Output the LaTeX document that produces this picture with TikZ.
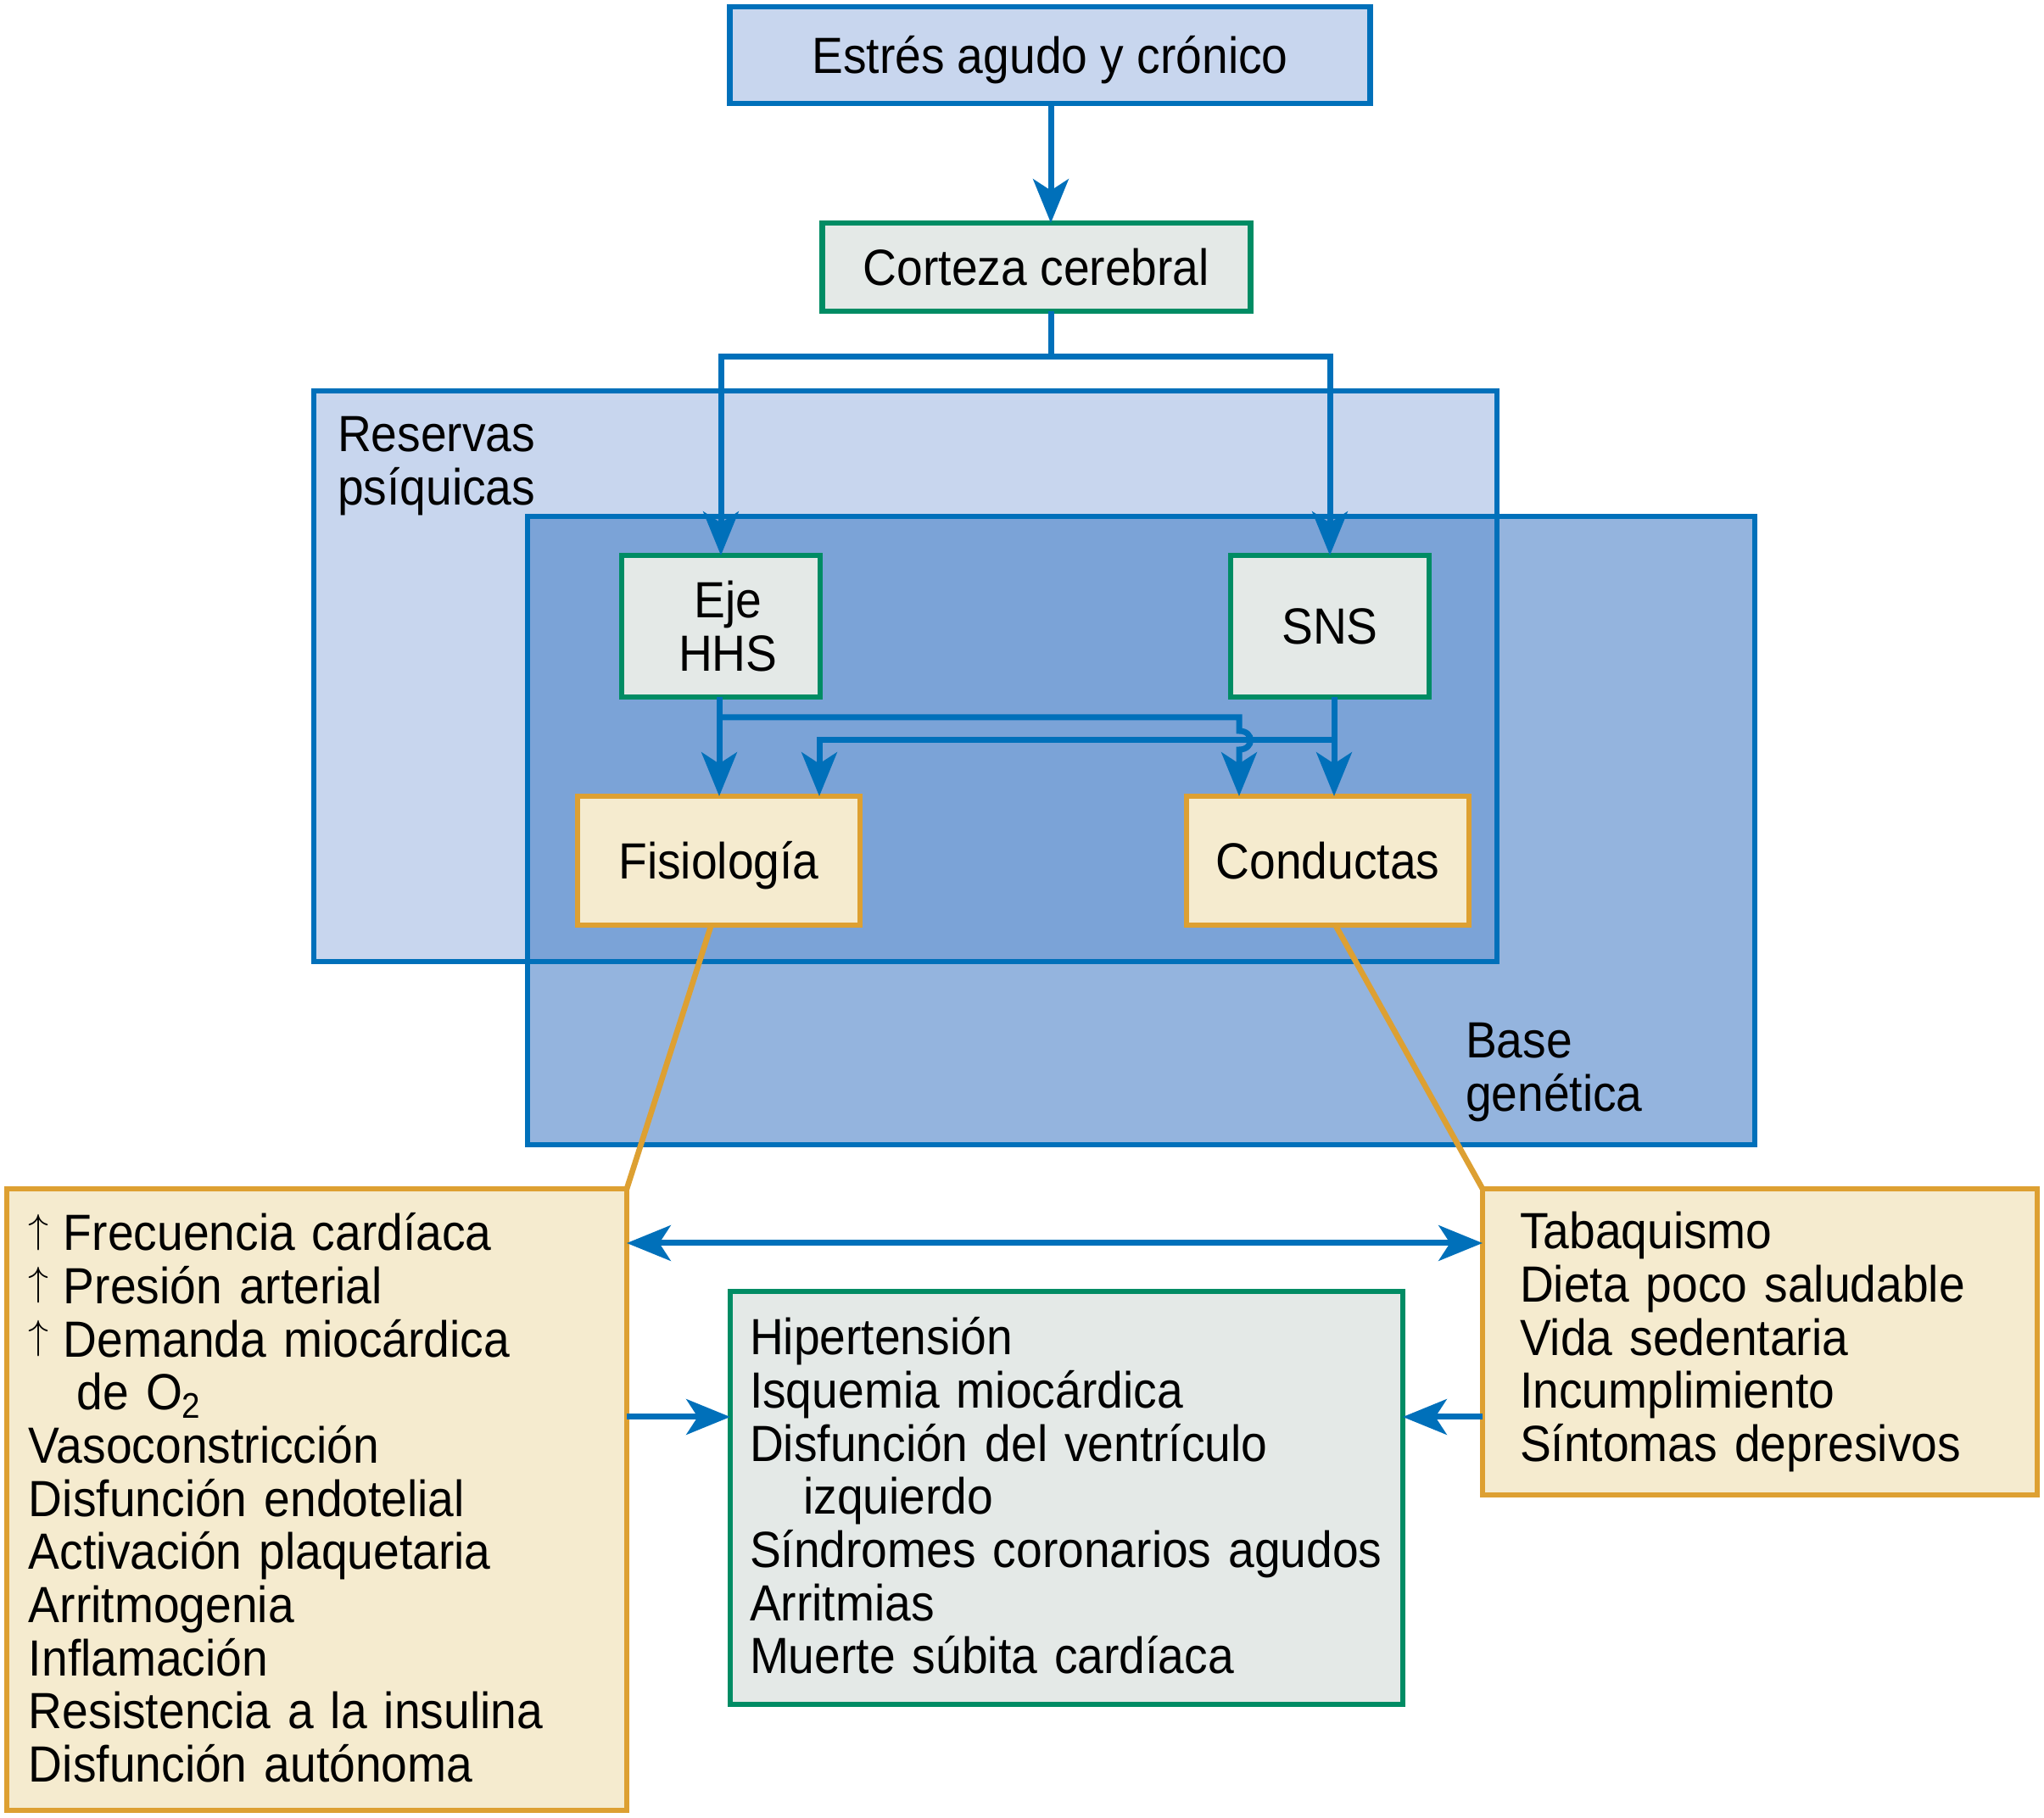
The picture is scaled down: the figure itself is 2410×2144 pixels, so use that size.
\documentclass[tikz,border=0pt]{standalone}
\usepackage{fontspec}
\setmainfont{Liberation Sans}[FakeStretch=0.92]
\usetikzlibrary{arrows.meta}
\definecolor{cblue}{RGB}{0,112,186}
\definecolor{cgreen}{RGB}{0,140,100}
\definecolor{corange}{RGB}{221,160,50}
\definecolor{fcream}{RGB}{245,235,207}
\definecolor{fgray}{RGB}{228,233,231}
\definecolor{flight}{RGB}{200,214,238}
\definecolor{fbase}{RGB}{148,180,222}
\definecolor{fover}{RGB}{123,163,215}
\newcommand\pxu{0.3pt}
\newcommand\upar{\makebox[12.3pt][l]{\raisebox{2.9pt}{\fontsize{15.5}{15.5}\selectfont$\uparrow$}}}
\tikzset{
  txt/.style={font=\fontsize{18}{18.8}\selectfont},
  boxbase/.style={line width=2pt, inner sep=0pt, outer sep=0pt, txt},
  oneline/.style={text height=15pt, text depth=2.1pt},
  bluebox/.style={boxbase, draw=cblue, fill=flight},
  greenbox/.style={boxbase, draw=cgreen, fill=fgray},
  orangebox/.style={boxbase, draw=corange, fill=fcream},
  regionbox/.style={inner sep=0pt, outer sep=0pt},
  tip/.tip={Stealth[length=15.5pt,width=12.5pt,inset=4pt]},
  conn/.style={draw=cblue, line width=2.1pt, -tip},
  plain/.style={draw=cblue, line width=2.1pt},
  link/.style={draw=corange, line width=2pt},
  listtext/.style={txt, anchor=base west, inner sep=0pt, outer sep=0pt, text width=300pt, align=left},
}
\begin{document}
\begin{tikzpicture}[x=0.3pt,y=-0.3pt]
\useasboundingbox (0,0) rectangle (2410,2144);
% region boxes
\node[regionbox, fill=flight, minimum width=1395*\pxu, minimum height=673*\pxu] (res) at (1067.5,797.5) {};
\node[regionbox, fill=fbase, minimum width=1447*\pxu, minimum height=741*\pxu] (base) at (1345.5,979.5) {};
\fill[fover] (base.north west) rectangle (res.south east);
\draw[cblue, line width=2pt] (res.north west) rectangle (res.south east);
\draw[cblue, line width=2pt] (base.north west) rectangle (base.south east);
\node[listtext] (reslbl) at (398,533) {Reservas\\psíquicas};
\node[listtext] (baselbl) at (1728,1248) {Base\\genética};

% top boxes
\node[bluebox, oneline, minimum width=755*\pxu, minimum height=114*\pxu] (stress) at (1238,65) {Estrés agudo y crónico};
\node[greenbox, oneline, minimum width=505*\pxu, minimum height=104*\pxu] (cort) at (1222,315) {Corteza cerebral};
\node[greenbox, minimum width=234*\pxu, minimum height=167*\pxu, align=center] (eje) at (850,738.5) {\hspace*{5pt}Eje\\\hspace*{5pt}HHS};
\node[greenbox, oneline, minimum width=234*\pxu, minimum height=167*\pxu] (sns) at (1568,738.5) {SNS};
\node[orangebox, oneline, minimum width=333*\pxu, minimum height=152*\pxu] (fisio) at (847.5,1015) {Fisiología};
\node[orangebox, oneline, minimum width=333*\pxu, minimum height=152*\pxu] (cond) at (1565.5,1015) {Conductas};

% connectors
\coordinate (split) at (1239,421);
\draw[conn] (stress.south -| split) -- (cort.north -| split);
\draw[plain] (cort.south -| split) -- (split);
\draw[conn] (split) -| (eje.north);
\draw[conn] (split) -| (sns.north);
\coordinate (hA) at (848,846);
\coordinate (hB) at (1573,873);
\draw[conn] (eje.south -| hA) -- (fisio.north -| hA);
\draw[conn] (sns.south -| hB) -- (cond.north -| hB);
\draw[conn] (hB) -- (966,873) -- (fisio.north -| 966,0);
\draw[conn] (hA) -- (1461,846) -- (1461,862) .. controls (1479,862) and (1479,884) .. (1461,884) -- (cond.north -| 1461,0);

% bottom boxes
\node[orangebox, minimum width=731*\pxu, minimum height=733*\pxu] (lbox) at (373.5,1768.5) {};
\node[orangebox, minimum width=654*\pxu, minimum height=361*\pxu] (rbox) at (2075,1582.5) {};
\node[greenbox, minimum width=793*\pxu, minimum height=487*\pxu] (gbox) at (1257.5,1766.5) {};

% orange links
\draw[link] ([xshift=-9*\pxu]fisio.south) -- (lbox.north east);
\draw[link] ([xshift=9*\pxu]cond.south) -- (rbox.north west);

% lists
\node[listtext] (ltxt) at (34,1475) {\upar Frecuencia cardíaca\\
\upar Presión arterial\\
\upar Demanda miocárdica\\
\hspace*{17pt}de O\textsubscript{2}\\
Vasoconstricción\\
Disfunción endotelial\\
Activación plaquetaria\\
Arritmogenia\\
Inflamación\\
Resistencia a la insulina\\
Disfunción autónoma};
\node[listtext] (rtxt) at (1792,1473) {Tabaquismo\\
Dieta poco saludable\\
Vida sedentaria\\
Incumplimiento\\
Síntomas depresivos};
\node[listtext] (gtxt) at (884,1598) {Hipertensión\\
Isquemia miocárdica\\
Disfunción del ventrículo\\
\hspace*{19pt}izquierdo\\
Síndromes coronarios agudos\\
Arritmias\\
Muerte súbita cardíaca};

% bottom arrows
\coordinate (rowA) at (0,1466);
\coordinate (rowB) at (0,1671);
\draw[conn, tip-tip] (rowA -| lbox.east) -- (rowA -| rbox.west);
\draw[conn] (rowB -| lbox.east) -- (rowB -| gbox.west);
\draw[conn] (rowB -| rbox.west) -- (rowB -| gbox.east);
\end{tikzpicture}
\end{document}
